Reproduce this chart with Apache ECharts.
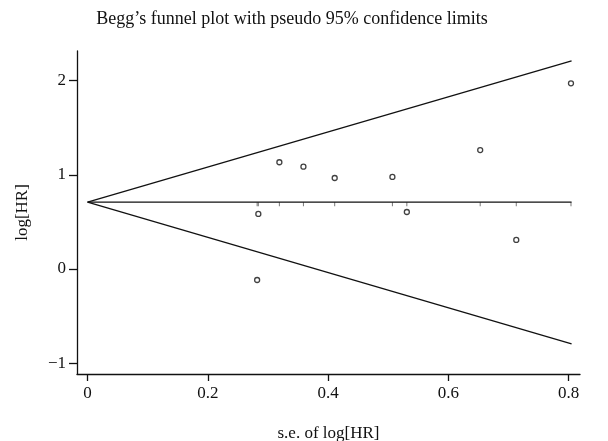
<!DOCTYPE html>
<html>
<head>
<meta charset="utf-8">
<script src="https://cdn.jsdelivr.net/npm/echarts@6/dist/echarts.min.js"></script>
<style>html,body{margin:0;padding:0;background:#fff;}#c{width:608px;height:441px;}</style>
</head>
<body>
<div id="c"></div>
<script>
// Study points: s.e. of log[HR] and log[HR]
var seValues = [0.282, 0.284, 0.319, 0.359, 0.411, 0.507, 0.531, 0.653, 0.713, 0.804];
var logHR    = [-0.117, 0.584, 1.133, 1.086, 0.966, 0.977, 0.605, 1.262, 0.308, 1.971];
// Pooled estimate and funnel limits
var pooled = 0.709;
var funnelSE = [0, 0.805];
var upperLimit = [0.709, 2.208];
var lowerLimit = [0.709, -0.796];
var xTicks = [0, 0.2, 0.4, 0.6, 0.8];
var yTicks = [-1, 0, 1, 2];

var font = '"Liberation Serif", "DejaVu Serif", serif';
var chart = echarts.init(document.getElementById('c'));
function pairs(xs, ys){ return xs.map(function(x,i){ return [x, ys[i]]; }); }
var option = {
  animation: false,
  backgroundColor: '#fff',
  title: {
    text: 'Begg\u2019s funnel plot with pseudo 95% confidence limits',
    left: 292, top: 5, textAlign: 'center',
    textStyle: { fontFamily: font, fontSize: 18, fontWeight: 'normal', color: '#111' }
  },
  grid: { left: 77, right: 28, top: 51, bottom: 67, outerBoundsMode: 'none', containLabel: false },
  xAxis: {
    type: 'value', min: -0.0176, max: 0.819,
    name: 's.e. of log[HR]', nameLocation: 'middle', nameGap: 51,
    nameTextStyle: { fontFamily: font, fontSize: 17, color: '#111' },
    axisLine: { show: true, onZero: false, lineStyle: { color: '#111', width: 1.3 } },
    axisTick: { show: true, length: 7, customValues: xTicks, lineStyle: { color: '#111', width: 1.3 } },
    axisLabel: { customValues: xTicks, margin: 11, fontFamily: font, fontSize: 17, color: '#111',
      formatter: function(v){ return String(+v.toFixed(1)); } },
    splitLine: { show: false }
  },
  yAxis: {
    type: 'value', min: -1.115, max: 2.314,
    name: 'log[HR]', nameLocation: 'middle', nameGap: 46,
    nameTextStyle: { fontFamily: font, fontSize: 17, color: '#111' },
    axisLine: { show: true, onZero: false, lineStyle: { color: '#111', width: 1.3 } },
    axisTick: { show: true, length: 8, customValues: yTicks, lineStyle: { color: '#111', width: 1.3 } },
    axisLabel: { customValues: yTicks, margin: 11, fontFamily: font, fontSize: 17, color: '#111',
      formatter: function(v){ return String(Math.round(v)).replace('-', '\u2212'); } },
    splitLine: { show: false }
  },
  series: [
    { type: 'line', data: pairs(funnelSE, upperLimit), symbol: 'none', lineStyle: { color: '#111', width: 1.3 } },
    { type: 'line', data: pairs(funnelSE, lowerLimit), symbol: 'none', lineStyle: { color: '#111', width: 1.3 } },
    { type: 'line', data: pairs(funnelSE, [pooled, pooled]), symbol: 'none', lineStyle: { color: '#111', width: 1.3 } },
    { type: 'scatter', data: seValues.map(function(x){ return [x, pooled]; }),
      symbol: 'rect', symbolSize: [1, 4], symbolOffset: [0, 2],
      itemStyle: { color: '#555' }, silent: true },
    { type: 'scatter', data: pairs(seValues, logHR), symbol: 'circle', symbolSize: 5,
      itemStyle: { color: '#fff', borderColor: '#111', borderWidth: 1.3 } }
  ]
};
option.title.left = 287;
chart.setOption(option);
</script>
</body>
</html>
